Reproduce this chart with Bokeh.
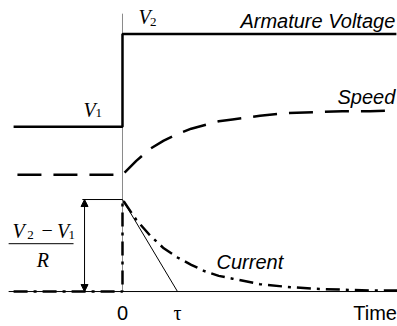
from bokeh.plotting import figure
from bokeh.models import Label, Arrow, NormalHead
from bokeh.embed import file_html
from bokeh.resources import INLINE

# ---- data (time in units of tau, levels in units of (V2-V1)/R) ----
tau = 1.0
voltage_t = [-1.98, 0.0, 0.0, 4.98]
voltage_v = [1.79, 1.79, 2.80, 2.80]

speed_t = [-1.91, 0.0, 0.25, 0.5, 0.75, 1.0, 1.25, 1.5, 1.75, 2.0, 2.5, 3.0, 3.5, 4.0, 4.5, 4.98]
speed_v = [1.27, 1.27, 1.42, 1.55, 1.64, 1.71, 1.77, 1.81, 1.85, 1.87, 1.91, 1.94, 1.95, 1.96, 1.96, 1.97]

current_t = [-1.98, 0.0, 0.0, 0.25, 0.5, 0.75, 1.0, 1.25, 1.5, 1.75, 2.0, 2.5, 3.0, 3.5, 4.0, 4.5, 5.0]
current_v = [0.0, 0.0, 1.0, 0.78, 0.61, 0.47, 0.37, 0.29, 0.22, 0.17, 0.14, 0.08, 0.05, 0.03, 0.02, 0.01, 0.01]

axis_t = [-2.07, 5.0]
peak = current_v[2]

p = figure(width=397, height=326, x_range=(-2.218, 5.0), y_range=(-0.380, 3.163),
           x_axis_type=None, y_axis_type=None, output_backend="svg",
           toolbar_location=None, min_border=0)
p.grid.visible = False
p.outline_line_color = None

# time axis
p.line(axis_t, [0, 0], line_color="black", line_width=1)
# t = 0 marker
p.line([0, 0], [0, 3.02], line_color="#8a8a8a", line_width=1)

# curves
p.line(voltage_t, voltage_v, line_color="black", line_width=2.5)
p.line(speed_t, speed_v, line_color="black", line_width=2.5, line_dash="24 12")
p.line(current_t, current_v, line_color="black", line_width=2.5, line_dash="14 6 3 6")

# tangent for tau
p.line([0, tau], [peak, 0], line_color="black", line_width=1)
# step size guide
p.line([-0.73, 0], [peak, peak], line_color="black", line_width=1)
p.add_layout(Arrow(start=NormalHead(size=7, fill_color="black", line_width=1),
                   end=NormalHead(size=7, fill_color="black", line_width=1),
                   x_start=-0.69, y_start=0, x_end=-0.69, y_end=peak,
                   line_width=1, line_color="black"))
# fraction bar
p.line([-2.07, -0.89], [0.52, 0.52], line_color="black", line_width=1)

serif = "Liberation Serif"
sans = "Liberation Sans"
DY = 0.065

def lab(x, y, text, font, size="20px", style="normal", align="left"):
    p.add_layout(Label(x=x, y=y + DY, text=text, text_font=font, text_font_size=size,
                       text_font_style=style, text_align=align,
                       text_baseline="alphabetic", text_color="black"))

# V2 / V1 labels
lab(0.29, 2.92, "V", serif, style="italic")
lab(0.50, 2.86, "2", serif, size="13px")
lab(-0.71, 1.91, "V", serif, style="italic")
lab(-0.49, 1.87, "1", serif, size="13px")

# fraction (V2 - V1)/R
lab(-2.00, 0.59, "V", serif, style="italic")
lab(-1.73, 0.55, "2", serif, size="13px")
lab(-1.37, 0.60, "\u2212", serif, align="center")
lab(-1.19, 0.59, "V", serif, style="italic")
lab(-0.98, 0.55, "1", serif, size="13px")
lab(-1.45, 0.28, "R", serif, style="italic", align="center")

# curve names
lab(4.96, 2.88, "Armature Voltage", sans, style="italic", align="right")
lab(4.96, 2.05, "Speed", sans, style="italic", align="right")
lab(1.71, 0.26, "Current", sans, style="italic")

# time labels
lab(0.0, -0.30, "0", sans, align="center")
lab(tau, -0.30, "\u03c4", serif, align="center")
lab(4.99, -0.30, "Time", sans, align="right")

open("out.html", "w").write(file_html(p, INLINE))
